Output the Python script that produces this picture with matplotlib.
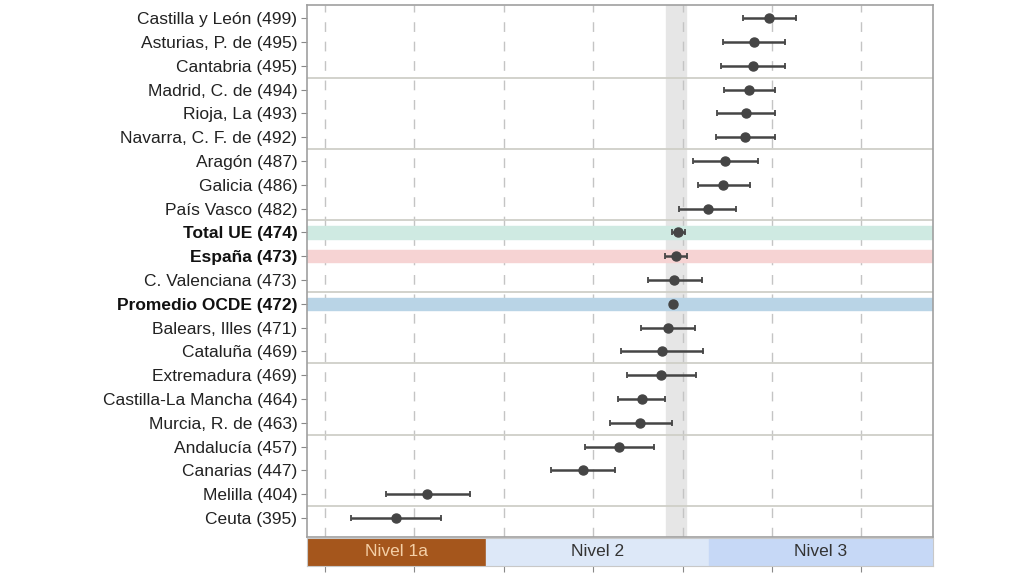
import numpy as np
import matplotlib.pyplot as plt

plt.rcParams['font.family'] = ['Liberation Sans', 'DejaVu Sans']

# datos (PISA 2022, matematicas)
labels = ['Castilla y León (499)', 'Asturias, P. de (495)', 'Cantabria (495)',
          'Madrid, C. de (494)', 'Rioja, La (493)', 'Navarra, C. F. de (492)',
          'Aragón (487)', 'Galicia (486)', 'País Vasco (482)',
          'Total UE (474)', 'España (473)', 'C. Valenciana (473)',
          'Promedio OCDE (472)', 'Balears, Illes (471)', 'Cataluña (469)',
          'Extremadura (469)', 'Castilla-La Mancha (464)', 'Murcia, R. de (463)',
          'Andalucía (457)', 'Canarias (447)', 'Melilla (404)', 'Ceuta (395)']
means = [499.2, 494.9, 494.6, 493.7, 492.6, 492.4, 486.9, 486.4, 482.0,
         473.7, 473.1, 472.7, 472.3, 470.9, 469.3, 469.0, 463.6, 463.2,
         457.2, 447.2, 403.6, 394.8]
lows = [491.8, 486.4, 485.6, 486.5, 484.5, 484.2, 477.9, 479.2, 474.1,
        472.1, 470.1, 465.3, 471.8, 463.4, 457.9, 459.4, 457.0, 454.6,
        447.6, 438.1, 392.1, 382.3]
highs = [506.7, 503.5, 503.7, 500.9, 500.8, 500.9, 496.0, 493.9, 490.0,
         475.7, 476.2, 480.5, 472.8, 478.5, 480.6, 478.8, 470.2, 472.1,
         466.9, 456.0, 415.7, 407.4]
bold_rows = {'Total UE (474)': '#cfeae2', 'España (473)': '#f6d3d3',
             'Promedio OCDE (472)': '#b9d4e6'}

levels = ['Nivel 1a', 'Nivel 2', 'Nivel 3']
level_edges = [370, 420.07, 482.38, 545]
level_colors = ['#a5561c', '#dde8f8', '#c6d8f6']
level_text = ['#f4cfa6', '#333333', '#333333']

spain_band = (470.4, 475.9)
xticks = [375, 400, 425, 450, 475, 500, 525]
xmin, xmax = 370, 545

fig = plt.figure(figsize=(10.24, 5.76), dpi=100)
ax = fig.add_axes([307/1024, 1 - 537/576, 626/1024, 532/576])
ax2 = fig.add_axes([307/1024, 1 - 566/576, 626/1024, 28/576])

y = np.arange(1, len(labels) + 1)

ax.axvspan(*spain_band, color='#e6e6e6', zorder=0)
for xt in xticks:
    ax.axvline(xt, color='#c4c4c4', lw=1, ls=(0, (7, 7)), zorder=1)
for i, lab in enumerate(labels):
    if lab in bold_rows:
        ax.axhspan(y[i] - 0.26, y[i] + 0.26, color=bold_rows[lab], zorder=1.5)
for s in np.arange(3.5, 22, 3):
    ax.axhline(s, color='#cfcfc8', lw=1.3, zorder=2)

means = np.array(means)
err = [means - np.array(lows), np.array(highs) - means]
ax.errorbar(means, y, xerr=err, fmt='o', color='#454545', ms=6.5,
            elinewidth=1.8, capsize=2.5, capthick=1.3, zorder=3)

ax.set_xlim(xmin, xmax)
ax.set_ylim(22.8, 0.45)
ax.set_yticks(y)
ax.set_yticklabels(labels, fontsize=12.5, color='#222222')
for t in ax.get_yticklabels():
    if t.get_text() in bold_rows:
        t.set_fontweight('bold')
        t.set_color('#111111')
ax.set_xticks([])
ax.tick_params(axis='y', length=4, color='#888888', pad=3)
for sp in ax.spines.values():
    sp.set_color('#a0a0a0')
    sp.set_linewidth(1.2)

for i, name in enumerate(levels):
    ax2.axvspan(level_edges[i], level_edges[i + 1], color=level_colors[i])
    ax2.text((level_edges[i] + level_edges[i + 1]) / 2, 0.5, name,
             ha='center', va='center', fontsize=12.5, color=level_text[i])
ax2.set_xlim(xmin, xmax)
ax2.set_ylim(0, 1)
ax2.set_yticks([])
ax2.set_xticks(xticks)
ax2.set_xticklabels([''] * len(xticks))
ax2.tick_params(axis='x', length=4, color='#888888')
for sp in ax2.spines.values():
    sp.set_color('#c8c8c8')

fig.savefig('out.png', dpi=100, facecolor='white')
